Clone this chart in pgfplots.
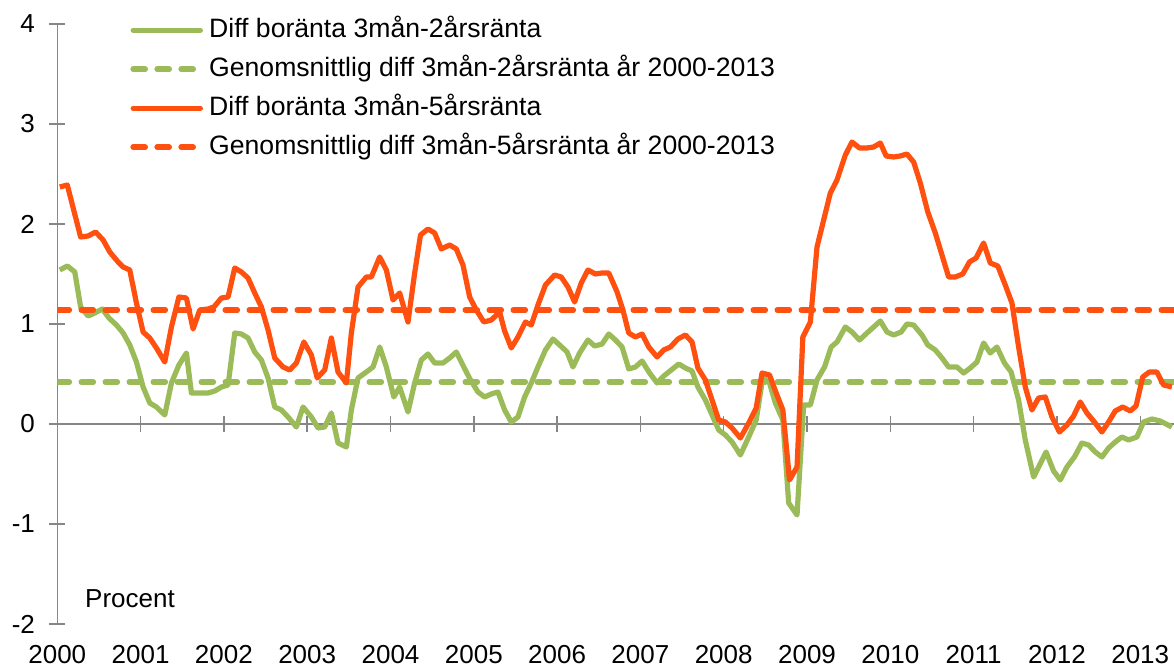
\documentclass[border=0pt]{standalone}
\usepackage{fontspec}
\setmainfont{Liberation Sans}
\usepackage{pgfplots}
\pgfplotsset{compat=1.18}
\definecolor{cgreen}{RGB}{155,187,89}
\definecolor{corange}{RGB}{255,80,15}
\definecolor{axgray}{RGB}{134,134,134}
\newcommand\chartfont{\fontsize{13}{15.6}\selectfont}
\newcommand\legfont{\fontsize{13.3}{16}\selectfont}
\begin{document}
\begin{tikzpicture}
\begin{axis}[
  scale only axis, width=558.35pt, height=300pt,
  xmin=2000, xmax=2013.4055, ymin=-2, ymax=4,
  axis x line=middle, axis y line=left,
  hide obscured x ticks=false, hide obscured y ticks=false,
  every inner x axis line/.append style={-},
  every outer y axis line/.append style={-},
  x axis line style={-}, y axis line style={-},
  axis line style={draw=axgray, line width=0.7pt},
  tick style={draw=axgray, line width=0.7pt},
  tick align=center, major tick length=8pt,
  xtick={2000,2001,...,2013},
  xticklabels={2000,2001,2002,2003,2004,2005,2006,2007,2008,2009,2010,2011,2012,2013},
  ytick={-2,-1,0,1,2,3,4},
  yticklabels={-2,-1,0,1,2,3,4},
  ticklabel style={font=\chartfont},
  xticklabel style={inner sep=0pt, anchor=north, yshift=-106.3pt},
  yticklabel style={inner sep=0pt, anchor=east, xshift=-7pt},
  clip=true,
  legend style={at={(0.0651,1.012)}, anchor=north west, draw=none, fill=none,
    font=\legfont, row sep=6.5pt, inner sep=0pt,
    nodes={inner sep=0pt, text height=10pt, text depth=3pt},
    /tikz/every odd column/.append style={column sep=3pt}},
  legend cell align=left,
  legend image code/.code={\draw[#1, line cap=round] (1.2pt,0pt) -- (34.8pt,0pt);},
]
\addplot[cgreen, line width=2.6pt, line join=round] coordinates {
(2000.03,1.54)(2000.12,1.58)(2000.21,1.52)(2000.28,1.17)(2000.37,1.08)(2000.45,1.11)
(2000.54,1.15)(2000.62,1.06)(2000.71,0.99)(2000.79,0.91)(2000.87,0.79)(2000.95,0.62)
(2001.03,0.37)(2001.11,0.21)(2001.19,0.17)(2001.29,0.09)(2001.37,0.41)(2001.46,0.59)
(2001.55,0.71)(2001.61,0.31)(2001.71,0.31)(2001.81,0.31)(2001.89,0.33)(2001.97,0.37)
(2002.05,0.39)(2002.13,0.91)(2002.21,0.90)(2002.29,0.86)(2002.37,0.72)(2002.45,0.64)
(2002.53,0.46)(2002.61,0.17)(2002.69,0.14)(2002.77,0.07)(2002.87,-0.03)(2002.95,0.17)
(2003.05,0.07)(2003.13,-0.04)(2003.21,-0.03)(2003.29,0.11)(2003.37,-0.19)(2003.47,-0.23)
(2003.53,0.14)(2003.61,0.46)(2003.71,0.52)(2003.79,0.57)(2003.87,0.77)(2003.95,0.57)
(2004.04,0.27)(2004.11,0.37)(2004.21,0.12)(2004.29,0.41)(2004.37,0.64)(2004.45,0.70)
(2004.53,0.61)(2004.63,0.61)(2004.71,0.66)(2004.79,0.72)(2004.88,0.57)(2004.96,0.44)
(2005.05,0.32)(2005.13,0.27)(2005.21,0.30)(2005.29,0.32)(2005.37,0.14)(2005.45,0.02)
(2005.53,0.07)(2005.61,0.27)(2005.69,0.41)(2005.77,0.57)(2005.86,0.74)(2005.95,0.85)
(2006.03,0.79)(2006.12,0.72)(2006.19,0.57)(2006.27,0.71)(2006.37,0.84)(2006.45,0.78)
(2006.54,0.80)(2006.62,0.90)(2006.70,0.84)(2006.78,0.77)(2006.86,0.55)(2006.94,0.57)
(2007.02,0.63)(2007.11,0.51)(2007.20,0.41)(2007.28,0.48)(2007.37,0.54)(2007.46,0.60)
(2007.54,0.56)(2007.62,0.53)(2007.69,0.37)(2007.78,0.24)(2007.86,0.09)(2007.94,-0.06)
(2008.02,-0.11)(2008.10,-0.18)(2008.20,-0.31)(2008.30,-0.13)(2008.39,0.04)(2008.47,0.47)
(2008.55,0.41)(2008.62,0.21)(2008.71,0.04)(2008.78,-0.79)(2008.88,-0.91)(2008.96,0.19)
(2009.04,0.19)(2009.12,0.44)(2009.21,0.57)(2009.29,0.77)(2009.36,0.82)(2009.46,0.97)
(2009.54,0.92)(2009.63,0.84)(2009.72,0.91)(2009.80,0.97)(2009.88,1.03)(2009.96,0.92)
(2010.04,0.89)(2010.13,0.92)(2010.20,1.00)(2010.28,0.99)(2010.38,0.89)(2010.45,0.79)
(2010.54,0.74)(2010.62,0.66)(2010.70,0.57)(2010.80,0.57)(2010.88,0.51)(2010.96,0.56)
(2011.04,0.62)(2011.12,0.81)(2011.20,0.71)(2011.28,0.77)(2011.37,0.61)(2011.45,0.52)
(2011.54,0.24)(2011.62,-0.16)(2011.72,-0.53)(2011.87,-0.28)(2011.96,-0.47)(2012.04,-0.56)
(2012.12,-0.43)(2012.21,-0.33)(2012.30,-0.19)(2012.38,-0.21)(2012.46,-0.28)(2012.54,-0.33)
(2012.62,-0.24)(2012.70,-0.18)(2012.78,-0.13)(2012.86,-0.16)(2012.96,-0.13)(2013.04,0.02)
(2013.14,0.05)(2013.24,0.03)(2013.38,-0.03)
};
\addlegendentry{Diff boränta 3mån-2årsränta}
\addplot[cgreen, line width=2.8pt, line cap=round, dash pattern=on 6pt off 6pt] coordinates {(2000,0.42)(2013.4055,0.42)};
\addlegendentry{Genomsnittlig diff 3mån-2årsränta år 2000-2013}
\addplot[corange, line width=2.6pt, line join=round] coordinates {
(2000.03,2.37)(2000.12,2.39)(2000.28,1.87)(2000.37,1.88)(2000.46,1.92)(2000.55,1.84)
(2000.63,1.72)(2000.73,1.62)(2000.79,1.57)(2000.87,1.54)(2000.95,1.21)(2001.03,0.92)
(2001.11,0.86)(2001.19,0.76)(2001.29,0.62)(2001.37,0.97)(2001.46,1.27)(2001.55,1.26)
(2001.63,0.95)(2001.71,1.14)(2001.81,1.15)(2001.88,1.17)(2001.97,1.26)(2002.05,1.27)
(2002.13,1.56)(2002.21,1.52)(2002.29,1.46)(2002.37,1.31)(2002.45,1.17)(2002.53,0.94)
(2002.61,0.66)(2002.71,0.57)(2002.79,0.54)(2002.87,0.61)(2002.96,0.82)(2003.05,0.69)
(2003.12,0.46)(2003.21,0.54)(2003.29,0.86)(2003.37,0.52)(2003.47,0.41)(2003.53,0.91)
(2003.61,1.37)(2003.71,1.47)(2003.77,1.47)(2003.87,1.67)(2003.95,1.54)(2004.03,1.24)
(2004.11,1.31)(2004.21,1.02)(2004.29,1.51)(2004.36,1.89)(2004.45,1.95)(2004.53,1.91)
(2004.61,1.75)(2004.71,1.79)(2004.79,1.75)(2004.87,1.59)(2004.95,1.27)(2005.03,1.14)
(2005.12,1.02)(2005.21,1.04)(2005.31,1.12)(2005.37,0.93)(2005.45,0.76)(2005.53,0.87)
(2005.62,1.02)(2005.69,0.99)(2005.77,1.19)(2005.86,1.39)(2005.97,1.49)(2006.05,1.47)
(2006.13,1.37)(2006.21,1.22)(2006.29,1.41)(2006.37,1.54)(2006.46,1.50)(2006.54,1.51)
(2006.62,1.51)(2006.72,1.32)(2006.79,1.14)(2006.86,0.91)(2006.94,0.87)(2007.02,0.90)
(2007.10,0.77)(2007.20,0.67)(2007.28,0.74)(2007.36,0.77)(2007.45,0.85)(2007.54,0.89)
(2007.62,0.82)(2007.69,0.56)(2007.78,0.44)(2007.86,0.24)(2007.94,0.04)(2008.02,0.02)
(2008.10,-0.04)(2008.20,-0.14)(2008.30,0.01)(2008.39,0.16)(2008.46,0.51)(2008.55,0.49)
(2008.63,0.31)(2008.71,0.14)(2008.79,-0.56)(2008.88,-0.43)(2008.95,0.87)(2009.04,1.02)
(2009.12,1.77)(2009.20,2.04)(2009.28,2.31)(2009.36,2.44)(2009.46,2.69)(2009.54,2.82)
(2009.63,2.76)(2009.72,2.76)(2009.80,2.77)(2009.88,2.81)(2009.95,2.68)(2010.04,2.67)
(2010.12,2.68)(2010.20,2.70)(2010.28,2.62)(2010.36,2.41)(2010.45,2.12)(2010.54,1.91)
(2010.62,1.69)(2010.70,1.47)(2010.78,1.47)(2010.87,1.50)(2010.95,1.62)(2011.03,1.66)
(2011.12,1.81)(2011.20,1.61)(2011.29,1.58)(2011.38,1.39)(2011.46,1.21)(2011.54,0.77)
(2011.62,0.37)(2011.70,0.14)(2011.78,0.26)(2011.86,0.27)(2011.94,0.07)(2012.03,-0.08)
(2012.12,-0.01)(2012.20,0.08)(2012.28,0.22)(2012.36,0.11)(2012.45,0.02)(2012.54,-0.08)
(2012.62,0.02)(2012.70,0.13)(2012.79,0.17)(2012.88,0.13)(2012.95,0.18)(2013.03,0.47)
(2013.11,0.52)(2013.20,0.52)(2013.28,0.39)(2013.38,0.37)
};
\addlegendentry{Diff boränta 3mån-5årsränta}
\addplot[corange, line width=2.8pt, line cap=round, dash pattern=on 6pt off 6pt] coordinates {(2000,1.14)(2013.4055,1.14)};
\addlegendentry{Genomsnittlig diff 3mån-5årsränta år 2000-2013}
\node[anchor=base west, inner sep=0pt, font=\chartfont] at (axis cs:2000.33,-1.84) {Procent};
\coordinate (SW) at (axis cs:2000,-2);
\coordinate (NE) at (axis cs:2013.4055,4);
\end{axis}
\pgfresetboundingbox
\path ([shift={(-28.65pt,-22pt)}]SW) rectangle ([shift={(0pt,12pt)}]NE);
\end{tikzpicture}
\end{document}
